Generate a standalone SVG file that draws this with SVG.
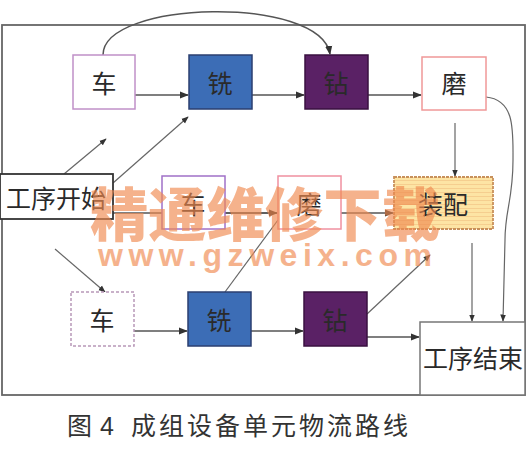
<svg xmlns="http://www.w3.org/2000/svg" width="530" height="453" viewBox="0 0 530 453">
<defs>
<style>
.lbl{font-family:"Noto Sans CJK SC","Noto Sans CJK JP",sans-serif;font-size:25px;fill:#2a2a2a;text-anchor:middle;dominant-baseline:central}
.ln{fill:none;stroke:#555;stroke-width:1.5}
.thin{fill:none;stroke:#666;stroke-width:1.2}
.wm{font-family:"Noto Sans CJK SC",sans-serif;font-weight:900;fill:#f08a50;opacity:0.65}
</style>
<marker id="ah" viewBox="0 0 10 10" refX="9" refY="5" markerWidth="6" markerHeight="6" orient="auto">
<path d="M0,1 L10,5 L0,9 z" fill="#333"/>
</marker>
<pattern id="stripe" width="6" height="4" patternUnits="userSpaceOnUse">
<rect width="6" height="4" fill="#fde4a4"/>
<line x1="0" y1="0.5" x2="6" y2="0.5" stroke="#f2c98a" stroke-width="0.8"/>
</pattern>
</defs>
<rect width="530" height="453" fill="#fff"/>
<rect x="2" y="25" width="523" height="370" fill="none" stroke="#666" stroke-width="1.8"/>

<g id="connectors">
<path class="ln" d="M103,55 C103,0 320,-5 330,54" marker-end="url(#ah)"/>
<path class="ln" d="M135,95 L188,95" marker-end="url(#ah)"/>
<path class="ln" d="M252,95 L304,95" marker-end="url(#ah)"/>
<path class="ln" d="M368,95 L421,95" marker-end="url(#ah)"/>
<path class="thin" d="M486,97 C515,100 513,130 513,160 C513,200 505,210 505,240 L503,321" marker-end="url(#ah)"/>
<path class="thin" d="M455,123 L455,176" marker-end="url(#ah)"/>
<path class="thin" d="M472,243 L472,321" marker-end="url(#ah)"/>
<path class="ln" d="M113,213 L162,213 M225,213 L277,213" />
<path class="ln" d="M225,213 L277,213" marker-end="url(#ah)"/>
<path class="ln" d="M341,213 L393,213" marker-end="url(#ah)"/>
<path class="thin" d="M64,174 L106,139" marker-end="url(#ah)"/>
<path class="thin" d="M113,183 L188,117" marker-end="url(#ah)"/>
<path class="thin" d="M55,249 L105,292" marker-end="url(#ah)"/>
<path class="thin" d="M225,292 L278,220"/>
<path class="thin" d="M367,314 L430,255" marker-end="url(#ah)"/>
<path class="ln" d="M134,331 L187,331" marker-end="url(#ah)"/>
<path class="ln" d="M251,331 L303,331" marker-end="url(#ah)"/>
<path class="ln" d="M367,337 L419,337" marker-end="url(#ah)"/>
</g>

<g id="n-top-che"><rect x="73" y="55" width="62" height="54" fill="#fff" stroke="#c090c8" stroke-width="1.5"/><text class="lbl" x="104" y="82">车</text></g>
<g id="n-top-xi"><rect x="189" y="55" width="63" height="54" fill="#3c6db6" stroke="#2b3f70" stroke-width="1.5"/><text class="lbl" x="220" y="82">铣</text></g>
<g id="n-top-zuan"><rect x="305" y="55" width="63" height="54" fill="#5a2165" stroke="#3a1040" stroke-width="1.5"/><text class="lbl" x="336" y="82">钻</text></g>
<g id="n-top-mo"><rect x="422" y="57" width="64" height="53" fill="#fff" stroke="#f09898" stroke-width="1.5"/><text class="lbl" x="454" y="82">磨</text></g>

<g id="n-start"><rect x="0" y="174" width="113" height="45" fill="#fff" stroke="#333" stroke-width="1.8"/><text class="lbl" x="56" y="197">工序开始</text></g>
<g id="n-mid-che"><rect x="162" y="176" width="63" height="53" fill="#fff" stroke="#a070c8" stroke-width="1.5"/><text class="lbl" x="193" y="203">车</text></g>
<g id="n-mid-mo"><rect x="278" y="176" width="63" height="53" fill="#fff" stroke="#f090a0" stroke-width="1.5"/><text class="lbl" x="309" y="203">磨</text></g>
<g id="n-assembly"><rect x="394" y="177" width="99" height="52" fill="url(#stripe)" stroke="#c8905a" stroke-width="1.8" stroke-dasharray="3,1"/><text class="lbl" x="443" y="203">装配</text></g>

<g id="n-bot-che"><rect x="71" y="292" width="63" height="54" fill="#fff" stroke="#b898b8" stroke-width="1.5" stroke-dasharray="3,2"/><text class="lbl" x="102" y="319">车</text></g>
<g id="n-bot-xi"><rect x="188" y="292" width="63" height="54" fill="#3c6db6" stroke="#2b3f70" stroke-width="1.5"/><text class="lbl" x="219" y="319">铣</text></g>
<g id="n-bot-zuan"><rect x="304" y="292" width="63" height="54" fill="#5a2165" stroke="#3a1040" stroke-width="1.5"/><text class="lbl" x="335" y="319">钻</text></g>
<g id="n-end"><rect x="420" y="322" width="105" height="73" fill="#fff" stroke="#777" stroke-width="1.5"/><text class="lbl" x="473" y="357">工序结束</text></g>

<g id="watermark">
<text class="wm" x="90" y="236" font-size="58" textLength="350" lengthAdjust="spacingAndGlyphs">精通维修下载</text>
<text class="wm" x="98" y="266" font-size="32" textLength="334" lengthAdjust="spacing" style="font-family:'Liberation Sans',sans-serif;font-weight:bold">www.gzweix.com</text>
</g>

<g id="caption">
<text x="67" y="435" font-family="Noto Sans CJK SC,sans-serif" font-size="25" fill="#333">图</text>
<text x="100" y="435" font-family="Liberation Sans,sans-serif" font-size="25" fill="#333">4</text>
<text x="131" y="435" font-family="Noto Sans CJK SC,sans-serif" font-size="25" fill="#333" textLength="277">成组设备单元物流路线</text>
</g>
</svg>
